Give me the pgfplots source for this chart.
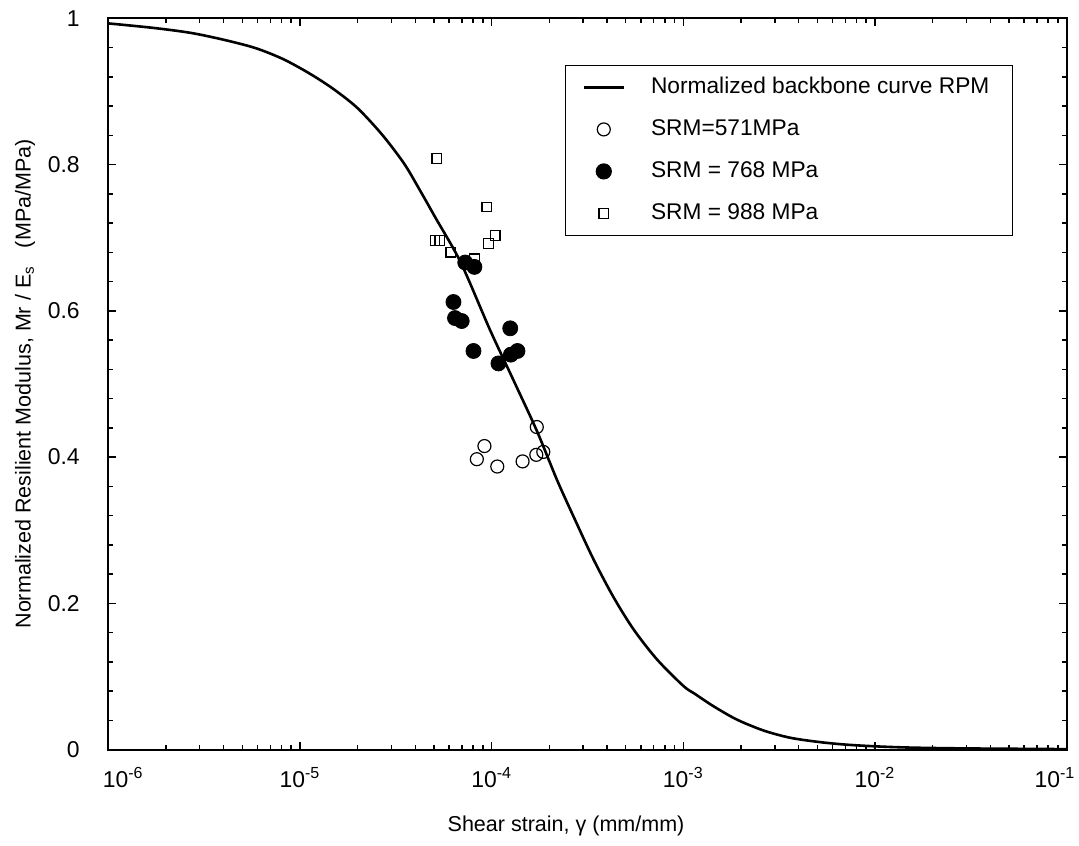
\documentclass[border=0pt]{standalone}
\usepackage{fontspec}
\setmainfont{Liberation Sans}
\usepackage{pgfplots}
\pgfplotsset{compat=1.18}
\begin{document}
\begin{tikzpicture}
\useasboundingbox (-54.15bp,-48.25bp) rectangle (485.35bp,374.75bp);
\begin{axis}[
  at={(0bp,0bp)}, anchor=south west,
  scale only axis, width=479.2bp, height=365.6bp,
  xmode=log, xmin=1e-6, xmax=1e-1, ymin=0, ymax=1,
  axis line style={line width=1bp},
  every tick/.style={black, line width=0.75bp},
  major tick length=3.75bp, minor tick length=2.5bp,
  xtick={1e-6,1e-5,1e-4,1e-3,1e-2,1e-1},
  xticklabels={\hspace*{15bp}10\textsuperscript{-6},10\textsuperscript{-5},10\textsuperscript{-4},10\textsuperscript{-3},10\textsuperscript{-2},10\textsuperscript{-1}\hspace*{11.7bp}},
  ytick={0,0.2,0.4,0.6,0.8,1},
  yticklabels={0,0.2,0.4,0.6,0.8,1},
  minor y tick num=4,
  tick label style={font=\fontsize{11.5}{13}\selectfont},
  yticklabel style={xshift=-10.8bp},
  xticklabel style={yshift=-5.5bp},
  xlabel={Shear strain, γ (mm/mm)},
  xlabel style={at={(rel axis cs:0.4776,-0.1046)}, anchor=center, font=\fontsize{10.8}{13}\selectfont},
  ylabel={Normalized Resilient Modulus, Mr / E\textsubscript{s}\ \ \ (MPa/MPa)},
  ylabel style={at={(rel axis cs:-0.0869,0.5)}, anchor=center, font=\fontsize{10.8}{13}\selectfont},
  legend cell align=left,
  legend image code/.code={\draw[mark repeat=2,mark phase=2,#1] plot coordinates {(0bp,0bp) (10bp,0bp) (20bp,0bp)}; \path (30bp,0bp);},
  legend style={at={(rel axis cs:0.944,0.9361)}, anchor=north east, draw=black, line width=0.6bp,
    font=\fontsize{11.4}{13}\selectfont, inner xsep=8.5bp, inner ysep=2.4bp, row sep=4bp,
    nodes={inner sep=3bp, text height=8.5bp, text depth=2.5bp}},
]
\addplot[black, line width=1.3bp, mark=none, smooth, tension=0.5] table {
x y
1.0e-6 0.993
1.7e-6 0.987
2.7e-6 0.980
4.1e-6 0.970
5.9e-6 0.959
8.2e-6 0.944
1.13e-5 0.924
1.5e-5 0.903
2.0e-5 0.877
2.7e-5 0.840
3.5e-5 0.801
4.2e-5 0.766
5.1e-5 0.727
6.9e-5 0.666
9.8e-5 0.574
1.30e-4 0.505
1.72e-4 0.436
2.19e-4 0.369
2.67e-4 0.319
3.40e-4 0.260
4.33e-4 0.208
5.51e-4 0.164
7.30e-4 0.123
1.0e-3 0.087
1.15e-3 0.076
1.44e-3 0.059
1.90e-3 0.041
2.62e-3 0.026
3.62e-3 0.016
5.2e-3 0.010
7.2e-3 0.0065
1.07e-2 0.004
1.6e-2 0.0025
2.9e-2 0.0015
5.3e-2 0.001
1.0e-1 0.0005
};
\addlegendentry{Normalized backbone curve RPM}
\addplot[only marks, mark=o, mark size=3.25bp, black, line width=0.6bp] table {
x y
1.72e-4 0.441
9.17e-5 0.415
8.37e-5 0.397
1.07e-4 0.387
1.45e-4 0.394
1.71e-4 0.403
1.86e-4 0.407
};
\addlegendentry{SRM=571MPa}
\addplot[only marks, mark=*, mark size=3.75bp, black, fill=black] table {
x y
7.28e-5 0.666
8.13e-5 0.660
6.32e-5 0.612
6.44e-5 0.590
6.98e-5 0.586
1.25e-4 0.576
8.04e-5 0.545
1.26e-4 0.540
1.364e-4 0.545
1.085e-4 0.528
};
\addlegendentry{SRM = 768 MPa}
\addplot[only marks, mark=square, mark size=2.4bp, black, line width=0.6bp] table {
x y
5.18e-5 0.808
9.44e-5 0.742
5.06e-5 0.696
5.37e-5 0.696
1.043e-4 0.703
9.62e-5 0.692
6.12e-5 0.680
8.13e-5 0.671
};
\addlegendentry{SRM = 988 MPa}
\end{axis}
\end{tikzpicture}
\end{document}
